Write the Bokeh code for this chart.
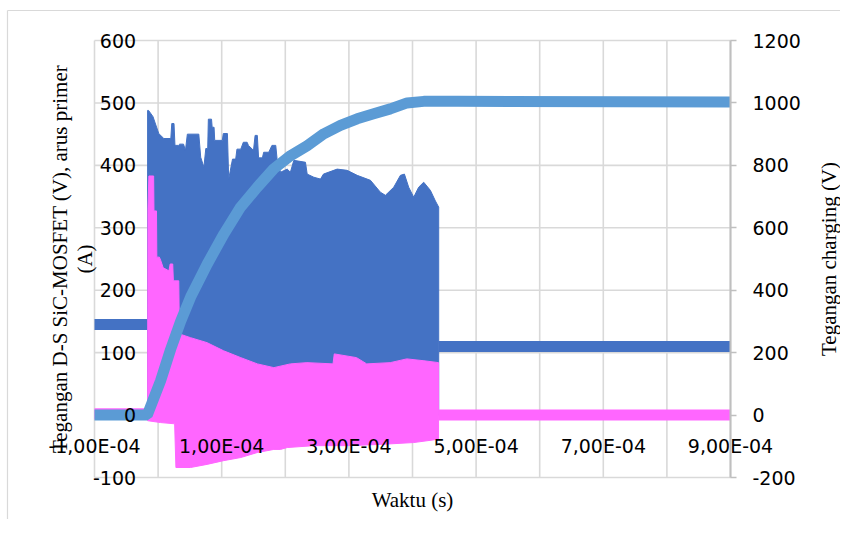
import numpy as np
from bokeh.plotting import figure
from bokeh.models import Range1d, LinearAxis, FixedTicker
from bokeh.core.properties import value
from bokeh.embed import file_html
from bokeh.resources import INLINE

# ---------------- data (time in microseconds) ----------------
# steady parts before / after the switching burst
t_pre_us = [-100, -16.5]
vds_pre = [145, 145]
ip_pre = [2, 2]
t_post_us = [441, 900]
vds_post = [110, 110]
ip_post = [0, 0]
vds_on = 0  # on-state level of V_DS during switching (hidden under the current)

# V_DS upper envelope during switching (V)
t_vds_env_us = [-16.5, -15.0, -8, 1, 9, 20, 21.5, 25, 26.5, 32, 34, 40, 43, 46, 64, 67, 72,
                75, 78, 79, 84, 85, 88, 89, 101, 102.5, 109, 111, 117, 122, 124, 130, 134,
                140, 142, 150, 152.5, 156, 158, 164, 166, 174, 179, 185, 187, 192.5, 203,
                208, 213.4, 231.7, 234.4, 244.8, 255.3, 260, 281.5, 297.3, 313, 333.9,
                349.5, 357.4, 370.5, 381, 387.3, 394, 401.9, 409.7, 417.6, 428.1, 436,
                441.2]
vds_upper = [488, 488, 478, 451, 443, 443, 467, 467, 432, 432, 434, 434, 424, 450, 450, 413,
             397, 427, 427, 474, 474, 461, 461, 440, 440, 451, 451, 378, 410, 410, 426, 426,
             437, 437, 432, 424, 448, 448, 412, 412, 421, 421, 432, 432, 411, 389, 394, 389,
             408, 405, 386, 381, 378, 386, 394, 392, 384, 376, 357, 352, 365, 384, 386, 365,
             349, 365, 373, 360, 343, 333]

# primary current envelopes during switching (A)
t_ip_up_us = [-16.5, -16.0, -14.5, -7.0, -6.5, -2.5, -2.0, 2, 4, 8, 17, 19, 23, 24, 32.5,
              33.5, 51, 77, 103, 130, 156, 182, 208, 234, 275, 277, 312, 328, 365, 391,
              418, 441]
ip_upper = [0, 330, 383, 383, 327, 327, 253, 253, 248, 236, 231, 242, 242, 215, 215, 130,
            124, 116, 103, 92, 82, 76, 82, 84, 82, 98, 92, 82, 84, 90, 87, 84]
t_ip_low_us = [-16.5, 4, 26, 28, 51, 77, 103, 130, 156, 182, 192.5, 203, 244.8, 297.3,
               349.5, 401.9, 438.6, 441]
ip_lower = [-9, -12, -14, -84, -84, -79, -73, -68, -60, -55, -55, -52, -49, -49, -47, -44,
            -39, -39]

# charging voltage (right axis, V)
t_chg_us = [-100, -17, 3.9, 19.6, 35.4, 51.1, 77.3, 103.4, 129.6, 155.9, 181.9, 208.2,
            234.4, 260.5, 286.7, 313, 339, 365.2, 391.5, 417.6, 470, 900]
v_chg = [0, 0, 110, 210, 300, 378, 484, 580, 666, 730, 789, 831, 863, 901, 928, 949, 965,
         981, 1000, 1005, 1005, 1003]

# axes
x_grid_ticks = [-1e-4, 0.0, 1e-4, 2e-4, 3e-4, 4e-4, 5e-4, 6e-4, 7e-4, 8e-4, 9e-4]
x_tick_pos = [-1e-4, 1e-4, 3e-4, 5e-4, 7e-4, 9e-4]
x_tick_labels = ["-1,00E-04", "1,00E-04", "3,00E-04", "5,00E-04", "7,00E-04", "9,00E-04"]
y_left_ticks = [-100, 0, 100, 200, 300, 400, 500, 600]
y_left_labels = ["-100", "0", "100", "200", "300", "400", "500", "600"]
y_right_ticks = [-200, 0, 200, 400, 600, 800, 1000, 1200]
y_right_labels = ["-200", "0", "200", "400", "600", "800", "1000", "1200"]

X_TITLE = "Waktu (s)"
Y_TITLE = ["Tegangan D-S SiC-MOSFET (V), arus primer", "(A)"]
Y2_TITLE = "Tegangan charging (V)"

# ---------------- layout (pixels) ----------------
W, H = 840, 519
PL, PR, PT, PB = 94, 730, 40, 477          # plot area
X0, X1 = -1e-4, 9e-4
Y0, Y1 = -100, 600
R0, R1 = -200, 1200
sx = (PR - PL) / (X1 - X0)
sy = (PB - PT) / (Y1 - Y0)


def dx(px):
    return X0 + (px - PL) / sx


def dy(py):
    return Y0 + (PB - py) / sy


def to_right(v):
    return R0 + (v - Y0) * (R1 - R0) / (Y1 - Y0)


US = 1e-6
C_VDS = "#4472C4"
C_IP = "#FF66FF"
C_CHG = "#5B9BD5"
GRID = "#d9d9d9"
TICK_FONT = "DejaVu Sans"
TITLE_FONT = "Liberation Serif"

p = figure(width=W, height=H, output_backend="svg", toolbar_location=None,
           x_range=Range1d(dx(0), dx(W)), y_range=Range1d(dy(H), dy(0)),
           x_axis_location=None, y_axis_location=None, min_border=0)
p.extra_y_ranges = {"right": Range1d(to_right(dy(H)), to_right(dy(0)))}
p.outline_line_color = None
p.grid.visible = False

# chart border (outer light grey frame)
p.segment(x0=[dx(7), dx(7)], y0=[dy(10), dy(10)], x1=[dx(W), dx(7)], y1=[dy(10), dy(H)],
          line_color=GRID, line_width=1.2)

# grid lines inside the plot area
p.segment(x0=x_grid_ticks, y0=[Y0] * len(x_grid_ticks), x1=x_grid_ticks,
          y1=[Y1] * len(x_grid_ticks), line_color=GRID, line_width=1.6)
p.segment(x0=[X0] * len(y_left_ticks), y0=y_left_ticks, x1=[X1] * len(y_left_ticks),
          y1=y_left_ticks, line_color=GRID, line_width=1.6)


def style_axis(ax):
    ax.major_label_text_font = TICK_FONT
    ax.major_label_text_font_size = "19px"
    ax.major_label_text_color = "black"
    ax.minor_tick_line_color = None


# bottom axis crossing at y = 0
xa = LinearAxis(fixed_location=0, ticker=FixedTicker(ticks=x_tick_pos))
xa.major_label_overrides = dict(zip(x_tick_pos, x_tick_labels))
xa.axis_line_color = None
xa.major_tick_line_color = None
xa.major_tick_out = 0
xa.major_tick_in = 0
xa.major_label_standoff = 20
style_axis(xa)
p.add_layout(xa, "below")

# left axis crossing at t = 0
ya = LinearAxis(fixed_location=0, ticker=FixedTicker(ticks=y_left_ticks))
ya.major_label_overrides = dict(zip(y_left_ticks, y_left_labels))
ya.axis_line_color = None
ya.major_tick_line_color = None
ya.major_tick_out = 0
ya.major_tick_in = 0
ya.major_label_standoff = 22
style_axis(ya)
p.add_layout(ya, "left")

# right axis at the right edge of the plot area
ra = LinearAxis(y_range_name="right", fixed_location=X1, bounds=(R0, R1),
                ticker=FixedTicker(ticks=y_right_ticks))
ra.major_label_overrides = dict(zip(y_right_ticks, y_right_labels))
ra.axis_line_color = "#bfbfbf"
ra.axis_line_width = 2
ra.major_tick_line_color = "#bfbfbf"
ra.major_tick_line_width = 1.5
ra.major_tick_out = 6
ra.major_tick_in = 0
ra.major_label_standoff = 16
style_axis(ra)
p.add_layout(ra, "right")

# ---------------- series ----------------
t_pre = np.array(t_pre_us) * US
t_post = np.array(t_post_us) * US

# V_DS
p.line(t_pre, vds_pre, line_color=C_VDS, line_width=11)
p.line(t_post, vds_post, line_color=C_VDS, line_width=11)
t_env = list(np.array(t_vds_env_us) * US)
p.patch(t_env + [t_env[-1], t_env[0]], list(vds_upper) + [vds_on, vds_on],
        fill_color=C_VDS, line_color=C_VDS, line_width=1)

# primary current
p.line(t_pre, ip_pre, line_color=C_IP, line_width=11)
p.line(t_post, ip_post, line_color=C_IP, line_width=11)
tu = list(np.array(t_ip_up_us) * US)
tl = list(np.array(t_ip_low_us) * US)
p.patch(tu + tl[::-1], list(ip_upper) + list(ip_lower)[::-1],
        fill_color=C_IP, line_color=C_IP, line_width=1)

# charging voltage
p.line(np.array(t_chg_us) * US, v_chg, y_range_name="right",
       line_color=C_CHG, line_width=11)

# ---------------- titles ----------------
title_kw = dict(text_font=value(TITLE_FONT), text_font_size="21px", text_color="black",
                text_align="center", text_baseline="alphabetic")
ymid = (Y0 + Y1) / 2
p.text(x=[dx(59), dx(84), dx(828)], y=[ymid, ymid, ymid],
       text=[Y_TITLE[0], Y_TITLE[1], Y2_TITLE], angle=np.pi / 2, **title_kw)
p.text(x=[(X0 + X1) / 2], y=[dy(499)], text=[X_TITLE], **title_kw)

open("out.html", "w").write(file_html(p, INLINE))
